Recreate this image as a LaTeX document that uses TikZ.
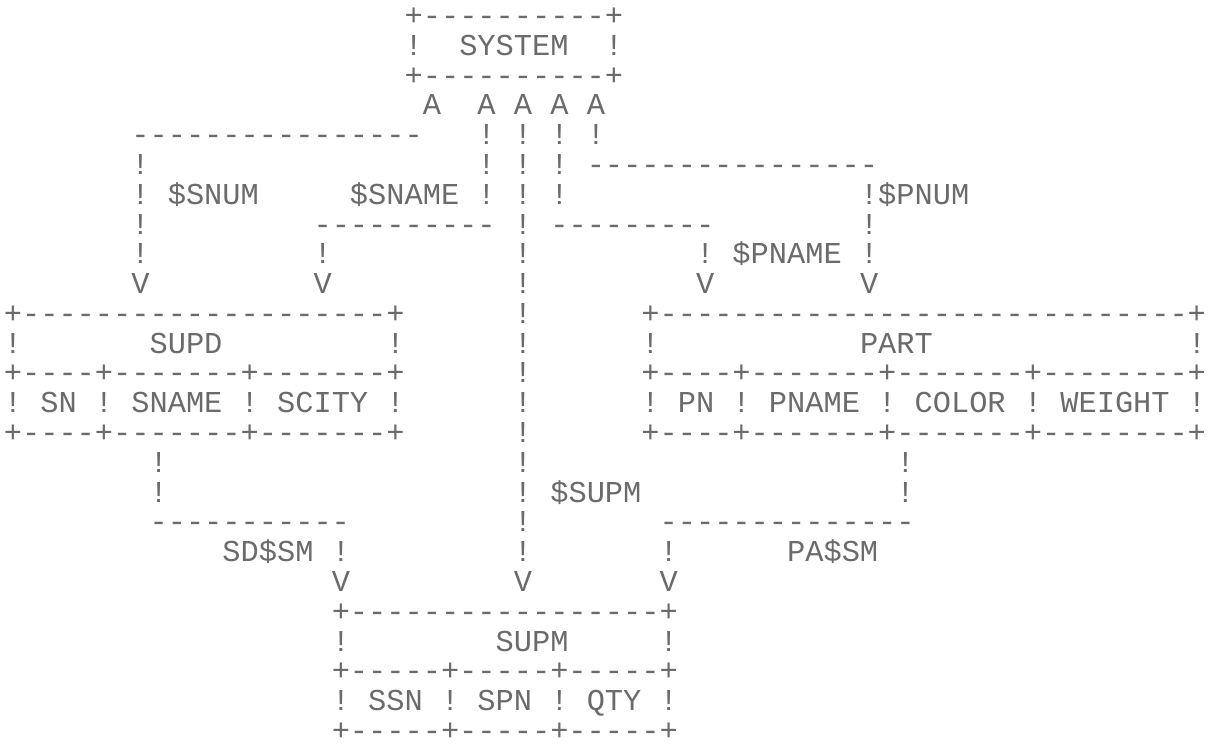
\documentclass[tikz,border=0pt]{standalone}
\usepackage{fontspec}
\newfontfamily\lpfont{Liberation Mono}
\tikzset{
  lp/.style={anchor=base west, inner sep=0pt, outer sep=0pt, text depth=0pt, text=black!58,
    font=\lpfont\fontsize{30.35}{30}\selectfont}
}
% one cell: 18.215 units wide, one row: 29.79 units high
\newcommand\R[3]{\node[lp] (n#1x#2) at ({13+18.215*#2-9.1075},{17+29.79*#1+8.5}) {#3};}
\newcommand\dd[1]{\foreach\k in {1,...,#1}{-\kern0pt}}
\begin{document}
\begin{tikzpicture}[x=1pt,y=-1pt]
\fill[white] (0,0) rectangle (1208,750);
\useasboundingbox (0,0) rectangle (1208,750);
% SYSTEM
\R{0}{22}{+\dd{10}+}
\R{1}{22}{!} \R{1}{25}{SYSTEM} \R{1}{33}{!}
\R{2}{22}{+\dd{10}+}
\R{3}{23}{A} \R{3}{26}{A} \R{3}{28}{A} \R{3}{30}{A} \R{3}{32}{A}
\R{4}{7}{\dd{16}} \R{4}{26}{!} \R{4}{28}{!} \R{4}{30}{!} \R{4}{32}{!}
\R{5}{7}{!} \R{5}{26}{!} \R{5}{28}{!} \R{5}{30}{!} \R{5}{32}{\dd{16}}
\R{6}{7}{!} \R{6}{9}{\$SNUM} \R{6}{19}{\$SNAME} \R{6}{26}{!} \R{6}{28}{!} \R{6}{30}{!} \R{6}{47}{!} \R{6}{48}{\$PNUM}
\R{7}{7}{!} \R{7}{17}{\dd{10}} \R{7}{28}{!} \R{7}{30}{\dd{9}} \R{7}{47}{!}
\R{8}{7}{!} \R{8}{17}{!} \R{8}{28}{!} \R{8}{38}{!} \R{8}{40}{\$PNAME} \R{8}{47}{!}
\R{9}{7}{V} \R{9}{17}{V} \R{9}{28}{!} \R{9}{38}{V} \R{9}{47}{V}
% SUPD and PART
\R{10}{0}{+\dd{20}+} \R{10}{28}{!} \R{10}{35}{+\dd{29}+}
\R{11}{0}{!} \R{11}{8}{SUPD} \R{11}{21}{!} \R{11}{28}{!} \R{11}{35}{!} \R{11}{47}{PART} \R{11}{65}{!}
\R{12}{0}{+\dd{4}+\dd{7}+\dd{7}+} \R{12}{28}{!} \R{12}{35}{+\dd{4}+\dd{7}+\dd{7}+\dd{8}+}
\R{13}{0}{!} \R{13}{2}{SN} \R{13}{5}{!} \R{13}{7}{SNAME} \R{13}{13}{!} \R{13}{15}{SCITY} \R{13}{21}{!} \R{13}{28}{!}
\R{13}{35}{!} \R{13}{37}{PN} \R{13}{40}{!} \R{13}{42}{PNAME} \R{13}{48}{!} \R{13}{50}{COLOR} \R{13}{56}{!} \R{13}{58}{WEIGHT} \R{13}{65}{!}
\R{14}{0}{+\dd{4}+\dd{7}+\dd{7}+} \R{14}{28}{!} \R{14}{35}{+\dd{4}+\dd{7}+\dd{7}+\dd{8}+}
% links to SUPM
\R{15}{8}{!} \R{15}{28}{!} \R{15}{49}{!}
\R{16}{8}{!} \R{16}{28}{!} \R{16}{30}{\$SUPM} \R{16}{49}{!}
\R{17}{8}{\dd{11}} \R{17}{28}{!} \R{17}{36}{\dd{14}}
\R{18}{12}{SD\$SM} \R{18}{18}{!} \R{18}{28}{!} \R{18}{36}{!} \R{18}{43}{PA\$SM}
\R{19}{18}{V} \R{19}{28}{V} \R{19}{36}{V}
% SUPM
\R{20}{18}{+\dd{17}+}
\R{21}{18}{!} \R{21}{27}{SUPM} \R{21}{36}{!}
\R{22}{18}{+\dd{5}+\dd{5}+\dd{5}+}
\R{23}{18}{!} \R{23}{20}{SSN} \R{23}{24}{!} \R{23}{26}{SPN} \R{23}{30}{!} \R{23}{32}{QTY} \R{23}{36}{!}
\R{24}{18}{+\dd{5}+\dd{5}+\dd{5}+}
\end{tikzpicture}
\end{document}
